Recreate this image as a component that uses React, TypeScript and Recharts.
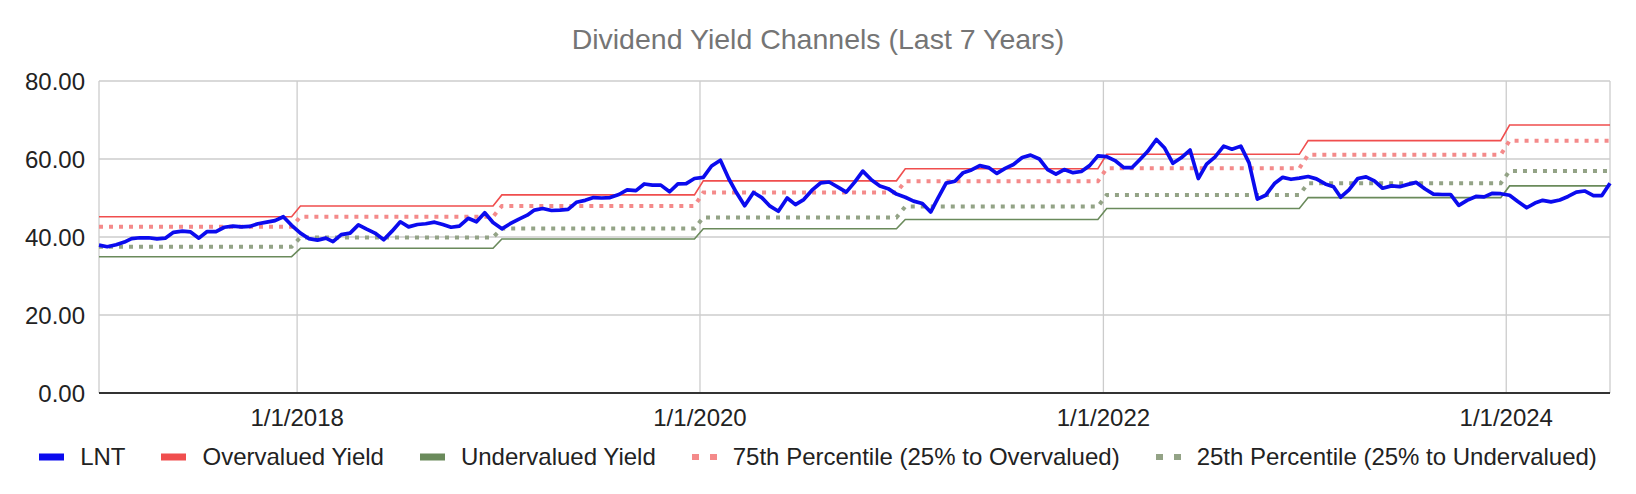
import React from "react";
import { LineChart, Line, XAxis, YAxis, CartesianGrid, Legend } from "recharts";

// ---- sampling grid (7th and 22nd of every month) ----
const YEARS = [2017, 2018, 2019, 2020, 2021, 2022, 2023, 2024];
const SAMPLE_DAYS = [7, 22];
const LAST_DATE = "2024-07-07";

// ---- LNT dividend yield series, one array per year ----
const lnt2017 = [37.9, 37.5, 38.0, 38.7, 39.6, 39.8, 39.8, 39.5, 39.7, 41.2, 41.5, 41.3, 39.7, 41.4, 41.4, 42.5, 42.8, 42.6, 42.7, 43.4, 43.8, 44.2, 45.2, 43.0];
const lnt2018 = [41.0, 39.6, 39.2, 39.7, 38.8, 40.6, 41.0, 43.1, 42.0, 41.0, 39.3, 41.5, 43.9, 42.6, 43.2, 43.4, 43.8, 43.2, 42.5, 42.8, 44.8, 43.9, 46.2, 43.7];
const lnt2019 = [42.1, 43.4, 44.6, 45.6, 46.9, 47.3, 46.8, 46.9, 47.1, 48.9, 49.4, 50.1, 50.0, 50.1, 50.9, 52.1, 51.9, 53.6, 53.3, 53.3, 51.6, 53.6, 53.7, 55.0];
const lnt2020 = [55.3, 58.2, 59.7, 55.0, 51.4, 48.0, 51.4, 50.1, 47.9, 46.6, 50.0, 48.3, 49.6, 52.0, 53.9, 54.1, 52.8, 51.5, 54.0, 56.9, 54.6, 53.1, 52.4, 51.0];
const lnt2021 = [50.2, 49.2, 48.6, 46.4, 49.9, 53.8, 54.3, 56.5, 57.2, 58.3, 57.8, 56.3, 57.6, 58.6, 60.4, 61.0, 60.0, 57.3, 56.1, 57.3, 56.5, 56.8, 58.3, 60.8];
const lnt2022 = [60.6, 59.6, 57.8, 57.8, 59.7, 61.9, 65.0, 62.8, 58.9, 60.3, 62.3, 55.0, 58.7, 60.5, 63.3, 62.5, 63.3, 59.0, 49.7, 50.7, 53.7, 55.3, 54.8, 55.1];
const lnt2023 = [55.5, 54.9, 53.6, 52.9, 50.2, 52.1, 55.0, 55.4, 54.4, 52.5, 53.1, 52.9, 53.5, 54.0, 52.3, 51.0, 50.9, 50.9, 48.1, 49.4, 50.4, 50.3, 51.2, 51.1];
const lnt2024 = [50.7, 49.1, 47.5, 48.7, 49.4, 49.0, 49.5, 50.4, 51.5, 51.8, 50.6, 50.6, 53.8];
const LNT = [...lnt2017, ...lnt2018, ...lnt2019, ...lnt2020, ...lnt2021, ...lnt2022, ...lnt2023, ...lnt2024];

// ---- yearly channel levels (2017..2024) ----
const OVERVALUED = [45.2, 47.95, 50.8, 54.4, 57.5, 61.2, 64.7, 68.7];
const P75 = [42.6, 45.2, 47.95, 51.4, 54.3, 57.6, 61.1, 64.7];
const P25 = [37.5, 39.9, 42.2, 45.0, 47.8, 50.8, 53.8, 56.9];
const UNDERVALUED = [34.95, 37.1, 39.5, 42.1, 44.5, 47.3, 50.1, 53.1];

// ---- axis ticks ----
const X_TICK_DATES = ["2018-01-01", "2020-01-01", "2022-01-01", "2024-01-01"];
const Y_TICKS = [0, 20, 40, 60, 80];

const TITLE = "Dividend Yield Channels (Last 7 Years)";
const LEGEND_ITEMS = [
  { key: "lnt", label: "LNT", color: "#0b0bee", dotted: false },
  { key: "over", label: "Overvalued Yield", color: "#f04e4e", dotted: false },
  { key: "under", label: "Undervalued Yield", color: "#6a8a5b", dotted: false },
  { key: "p75", label: "75th Percentile (25% to Overvalued)", color: "#f48a8a", dotted: true },
  { key: "p25", label: "25th Percentile (25% to Undervalued)", color: "#93a386", dotted: true },
];

const pad = (n: number) => (n < 10 ? "0" + n : "" + n);
const toTs = (s: string) => {
  const [y, m, d] = s.split("-").map(Number);
  return Date.UTC(y, m - 1, d);
};

function buildDates(): string[] {
  const out: string[] = [];
  for (const y of YEARS)
    for (let m = 1; m <= 12; m++)
      for (const d of SAMPLE_DAYS) {
        const s = `${y}-${pad(m)}-${pad(d)}`;
        if (s <= LAST_DATE) out.push(s);
      }
  return out;
}

const DATES = buildDates();
const DATA = DATES.map((d, i) => {
  const yi = YEARS.indexOf(Number(d.slice(0, 4)));
  return {
    t: toTs(d),
    lnt: LNT[i],
    over: OVERVALUED[yi],
    under: UNDERVALUED[yi],
    p75: P75[yi],
    p25: P25[yi],
  };
});
const X_TICKS = X_TICK_DATES.map(toTs);
const X_DOMAIN = [toTs(DATES[0]), toTs(DATES[DATES.length - 1])];

const FONT = "'Liberation Sans', Arial, sans-serif";

const fmtDate = (v: number) => {
  const d = new Date(v);
  return `${d.getUTCMonth() + 1}/${d.getUTCDate()}/${d.getUTCFullYear()}`;
};

function LegendContent() {
  return (
    <div
      style={{
        display: "flex",
        justifyContent: "center",
        alignItems: "center",
        gap: 36,
        fontFamily: FONT,
        fontSize: 24,
        color: "#222",
        lineHeight: "28px",
        whiteSpace: "nowrap",
      }}
    >
      {LEGEND_ITEMS.map((it) => (
        <div key={it.key} style={{ display: "flex", alignItems: "center", gap: 16 }}>
          <svg width={25} height={8}>
            {it.dotted ? (
              <>
                <rect x={0} y={1} width={7} height={6} fill={it.color} />
                <rect x={18} y={1} width={7} height={6} fill={it.color} />
              </>
            ) : (
              <rect x={0} y={0.5} width={25} height={7} fill={it.color} />
            )}
          </svg>
          <span>{it.label}</span>
        </div>
      ))}
    </div>
  );
}

export default function App() {
  return (
    <div style={{ position: "relative", width: 1636, height: 494, background: "#fff" }}>
      <style>{"body{margin:0;}"}</style>
      <div
        style={{
          position: "absolute",
          top: 21,
          left: 0,
          width: 1636,
          textAlign: "center",
          fontFamily: FONT,
          fontSize: 28.5,
          lineHeight: "36px",
          color: "#757575",
        }}
      >
        {TITLE}
      </div>
      <LineChart
        width={1636}
        height={494}
        data={DATA}
        margin={{ top: 81, right: 26, left: 0, bottom: 61 }}
        style={{ fontFamily: FONT }}
      >
        <CartesianGrid stroke="#cccccc" strokeWidth={1.3} />
        <XAxis
          dataKey="t"
          type="number"
          domain={X_DOMAIN}
          ticks={X_TICKS}
          tickFormatter={fmtDate}
          axisLine={{ stroke: "#333333", strokeWidth: 2 }}
          tickLine={false}
          tickMargin={10}
          height={40}
          tick={{ fill: "#222", fontSize: 24 }}
          interval={0}
        />
        <YAxis
          domain={[0, 80]}
          ticks={Y_TICKS}
          tickFormatter={(v: number) => v.toFixed(2)}
          axisLine={false}
          tickLine={false}
          width={99}
          tickMargin={8}
          tick={{ fill: "#222", fontSize: 24 }}
          interval={0}
        />
        <Line dataKey="over" name="Overvalued Yield" stroke="#f04e4e" strokeWidth={1.6} dot={false} activeDot={false} isAnimationActive={false} />
        <Line dataKey="under" name="Undervalued Yield" stroke="#6a8a5b" strokeWidth={1.6} dot={false} activeDot={false} isAnimationActive={false} />
        <Line dataKey="p75" name="75th Percentile (25% to Overvalued)" stroke="#f48a8a" strokeWidth={4} strokeDasharray="4 6" dot={false} activeDot={false} isAnimationActive={false} />
        <Line dataKey="p25" name="25th Percentile (25% to Undervalued)" stroke="#93a386" strokeWidth={4} strokeDasharray="4 6" dot={false} activeDot={false} isAnimationActive={false} />
        <Line dataKey="lnt" name="LNT" stroke="#0b0bee" strokeWidth={3.7} strokeLinejoin="round" dot={false} activeDot={false} isAnimationActive={false} />
        <Legend
          verticalAlign="middle"
          align="center"
          layout="horizontal"
          content={() => <LegendContent />}
          wrapperStyle={{ top: 443, left: 0, width: 1636, height: 28 }}
        />
      </LineChart>
    </div>
  );
}
